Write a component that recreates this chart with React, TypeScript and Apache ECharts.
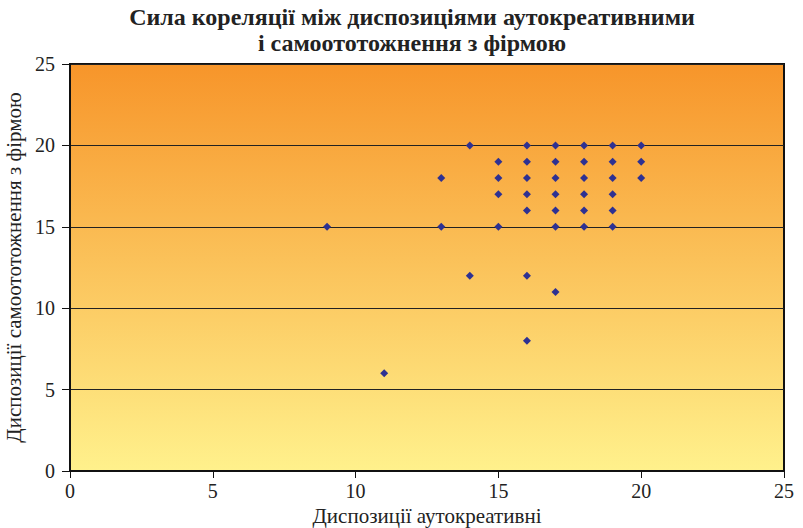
import React, { useEffect, useRef } from "react";
import * as echarts from "echarts";

const titleLines = ["Сила кореляції між диспозиціями аутокреативними", "і самоототожнення з фірмою"];
const xName = "Диспозиції аутокреативні";
const yName = "Диспозиції самоототожнення з фірмою";

const xValues = [9, 11, 13, 13, 14, 14, 15, 15, 15, 15, 16, 16, 16, 16, 16, 16, 16, 17, 17, 17, 17, 17, 17, 17, 18, 18, 18, 18, 18, 18, 19, 19, 19, 19, 19, 19, 20, 20, 20];
const yValues = [15, 6, 18, 15, 20, 12, 19, 18, 17, 15, 20, 19, 18, 17, 16, 12, 8, 20, 19, 18, 17, 16, 15, 11, 20, 19, 18, 17, 16, 15, 20, 19, 18, 17, 16, 15, 20, 19, 18];

export default function App() {
  const ref = useRef<HTMLDivElement>(null);
  useEffect(() => {
    if (!ref.current) return;
    const chart = echarts.init(ref.current, undefined, { renderer: "svg" });
    const data = xValues.map((x, i) => [x, yValues[i]]);
    const font = "'Liberation Serif', 'Times New Roman', serif";
    chart.setOption({
      animation: false,
      graphic: titleLines.map((t, i) => ({
        type: "text",
        x: 412,
        y: 17 + i * 26,
        style: {
          text: t,
          fontFamily: font,
          fontWeight: "bold",
          fontSize: 24,
          fill: "#222",
          textAlign: "center",
          textVerticalAlign: "middle",
        },
      })),
      grid: {
        left: 70, right: 19, top: 64, bottom: 57,
        outerBoundsMode: "none",
        containLabel: false,
        show: true,
        borderColor: "#111",
        borderWidth: 2,
        backgroundColor: new echarts.graphic.LinearGradient(0, 0, 0, 1, [
          { offset: 0, color: "#F7952A" },
          { offset: 1, color: "#FFF18C" },
        ]),
      },
      xAxis: {
        type: "value", min: 0, max: 25, interval: 5,
        name: xName, nameLocation: "middle", nameGap: 34,
        nameTextStyle: { fontFamily: font, fontSize: 21, color: "#222" },
        axisLine: { show: true, lineStyle: { color: "#111", width: 2 } },
        axisTick: { show: true, length: 7, lineStyle: { color: "#111" } },
        axisLabel: { fontFamily: font, fontSize: 20, color: "#222", margin: 10 },
        splitLine: { show: false },
      },
      yAxis: {
        type: "value", min: 0, max: 25, interval: 5,
        name: yName, nameLocation: "middle", nameGap: 42, nameRotate: 90,
        nameTextStyle: { fontFamily: font, fontSize: 21, color: "#222" },
        axisLine: { show: true, lineStyle: { color: "#111", width: 2 } },
        axisTick: { show: true, length: 8, lineStyle: { color: "#111" } },
        axisLabel: { fontFamily: font, fontSize: 20, color: "#222", margin: 15 },
        splitLine: { show: true, lineStyle: { color: "#222", width: 1 } },
      },
      series: [{
        type: "scatter",
        symbol: "diamond",
        symbolSize: 8,
        itemStyle: { color: "#2E3192", opacity: 1 },
        data,
      }],
    });
    return () => chart.dispose();
  }, []);
  return <div ref={ref} style={{ width: 803, height: 528, position: "absolute", left: 0, top: 0 }} />;
}
